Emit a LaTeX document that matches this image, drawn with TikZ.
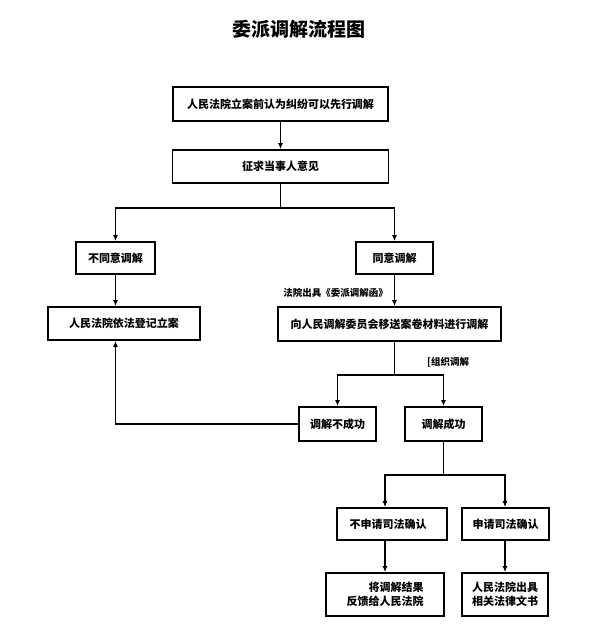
\documentclass[tikz,border=0pt]{standalone}
\usepackage{fontspec}
\setmainfont{Noto Sans CJK SC}
\usetikzlibrary{arrows.meta,positioning}
\tikzset{
  box/.style={draw=black, line width=1.8pt, fill=white, inner sep=0pt, font=\fontsize{11}{14}\selectfont\bfseries},
  conn/.style={line width=1.3pt},
  arr/.style={conn, -{Latex[length=6pt,width=5pt]}},
  lbl/.style={inner sep=0pt, font=\fontsize{9.5}{11}\selectfont\bfseries}
}
\begin{document}
\begin{tikzpicture}[x=1pt,y=1pt]
\useasboundingbox (0,0) rectangle (602,-641);
\node[font=\fontsize{19}{22}\selectfont\bfseries] (title) at (299,-29) {委派调解流程图};
\node[box, minimum width=215, minimum height=34] (b1) at (280.5,-104) {人民法院立案前认为纠纷可以先行调解};
\node[box, minimum width=216, minimum height=33] (b2) at (280.5,-166.5) {征求当事人意见};
\node[box, minimum width=79, minimum height=32] (nd) at (115.5,-258) {不同意调解};
\node[box, minimum width=77, minimum height=32] (ag) at (394.5,-258) {同意调解};
\node[box, minimum width=152, minimum height=33] (lian) at (124,-323.5) {人民法院依法登记立案};
\node[box, minimum width=223, minimum height=34] (yi) at (389.5,-324) {向人民调解委员会移送案卷材料进行调解};
\node[box, minimum width=77, minimum height=34] (fail) at (337.5,-424) {调解不成功};
\node[box, minimum width=77, minimum height=34] (succ) at (443.5,-424) {调解成功};
\node[box, minimum width=110, minimum height=32] (noapp) at (392,-524) {\hspace*{-8pt}不申请司法确认};
\node[box, minimum width=87, minimum height=32] (app) at (505.5,-524) {申请司法确认};
\node[box, minimum width=118, minimum height=43, align=right] (fb) at (385,-594.5) {将调解结果\\反馈给人民法院};
\node[box, minimum width=86, minimum height=43, align=center] (doc) at (505,-594.5) {人民法院出具\\相关法律文书};
\node[lbl, anchor=east] (l1) at (388,-293) {法院出具《委派调解函》};
\node[lbl, anchor=west] (l2) at (427,-362) {[组织调解};
\coordinate (s1) at (0,-208);
\coordinate (s2) at (0,-375);
\coordinate (s3) at (0,-475);
\draw[arr] (b1.south) -- (b2.north);
\draw[conn] (b2.south) -- (b2.south |- s1);
\draw[arr] (b2.south |- s1) -| (nd.north);
\draw[arr] (b2.south |- s1) -| (ag.north);
\draw[arr] (nd.south) -- (nd.south |- lian.north);
\draw[arr] (ag.south) -- (ag.south |- yi.north);
\draw[conn] (ag.south |- yi.south) -- (ag.south |- s2);
\draw[arr] (ag.south |- s2) -| (fail.north);
\draw[arr] (ag.south |- s2) -| (succ.north);
\draw[arr] (fail.west) -| (nd.south |- lian.south);
\draw[conn] (succ.south) -- (succ.south |- s3);
\draw[arr] (succ.south |- s3) -| (fb.north |- noapp.north);
\draw[arr] (succ.south |- s3) -| (doc.north |- app.north);
\draw[arr] (fb.north |- noapp.south) -- (fb.north);
\draw[arr] (doc.north |- app.south) -- (doc.north);
\end{tikzpicture}
\end{document}
